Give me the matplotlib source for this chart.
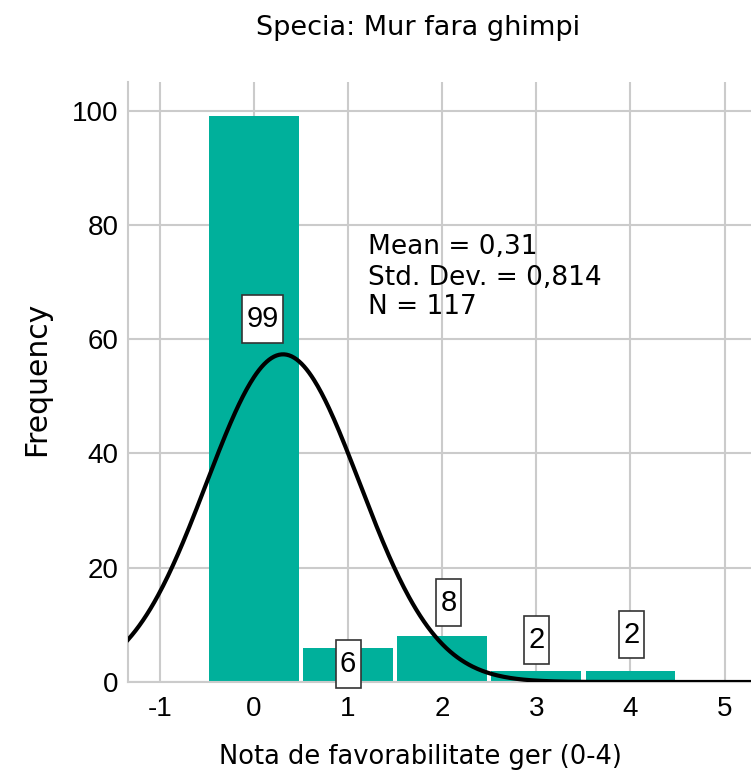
import matplotlib.pyplot as plt
from matplotlib.path import Path
import numpy as np

plt.rcParams['font.family'] = ['Liberation Sans', 'DejaVu Sans']

# Date
note = [0, 1, 2, 3, 4]
frecvente = [99, 6, 8, 2, 2]
media = 0.31
abatere = 0.814
n_total = 117

x_ticks = [-1, 0, 1, 2, 3, 4, 5]
y_ticks = [0, 20, 40, 60, 80, 100]

# pozitiile etichetelor (x, y) in coordonate de date
etichete_x = [0.09, 1.0, 2.07, 3.0, 4.01]
etichete_y = [63.5, 3.2, 13.9, 7.4, 8.3]

culoare_bara = '#00b09b'
culoare_grila = '#cbcbcb'
font_text = 'DejaVu Sans'


def cutie(x0, y0, width, height, mutation_size):
    # dreptunghi cu padding mai mare pe verticala
    px = 0.15*mutation_size
    py = 0.34*mutation_size
    x0, y0 = x0 - px, y0 - py
    x1, y1 = x0 + width + 2*px, y0 + height + 2*py
    return Path([(x0, y0), (x1, y0), (x1, y1), (x0, y1), (x0, y0)], closed=True)


fig = plt.figure(figsize=(7.51, 7.76), dpi=100)
ax = fig.add_axes([128/751, 1 - 682/776, 623/751, 600/776])

ax.set_xlim(-1.337, 5.28)
ax.set_ylim(0, 105)

ax.set_xticks(x_ticks)
ax.set_yticks(y_ticks)
ax.grid(True, color=culoare_grila, linewidth=1.5)
ax.set_axisbelow(True)

ax.bar(note, frecvente, width=0.955, color=culoare_bara, linewidth=0, zorder=2)

# curba normala
xs = np.linspace(-1.337, 5.28, 500)
ys = n_total / (abatere*np.sqrt(2*np.pi)) * np.exp(-0.5*((xs - media)/abatere)**2)
ax.plot(xs, ys, color='black', linewidth=3.0, zorder=4)

for xe, ye, val in zip(etichete_x, etichete_y, frecvente):
    ax.text(xe, ye, str(val), ha='center', va='center', fontsize=21,
            zorder=5,
            bbox=dict(boxstyle=cutie, facecolor='white',
                      edgecolor='#333333', linewidth=1.2))

# statistici
ax.text(1.21, 76.1, 'Mean = 0,31', fontsize=19, va='center', ha='left',
        family=font_text, zorder=5)
ax.text(1.21, 70.7, 'Std. Dev. = 0,814', fontsize=19, va='center', ha='left',
        family=font_text, zorder=5)
ax.text(1.21, 65.6, 'N = 117', fontsize=19, va='center', ha='left',
        family=font_text, zorder=5)

for s in ['top', 'right']:
    ax.spines[s].set_visible(False)
for s in ['left', 'bottom']:
    ax.spines[s].set_color(culoare_grila)
    ax.spines[s].set_linewidth(1.5)

ax.tick_params(length=0, labelsize=20)
ax.tick_params(axis='x', pad=10)
ax.tick_params(axis='y', pad=7)
ax.set_xticklabels(['-1', '0', '1', '2', '3', '4', '5'])

fig.text(418/751, 1 - 28/776, 'Specia: Mur fara ghimpi', fontsize=19.5,
         family=font_text, ha='center', va='center')
fig.text(420/751, 1 - 757/776, 'Nota de favorabilitate ger (0-4)', fontsize=18.5,
         family=font_text, ha='center', va='center')
fig.text(37/751, 1 - 379/776, 'Frequency', fontsize=21.5, rotation=90,
         family=font_text, ha='center', va='center')

fig.savefig('out.png', dpi=100)
